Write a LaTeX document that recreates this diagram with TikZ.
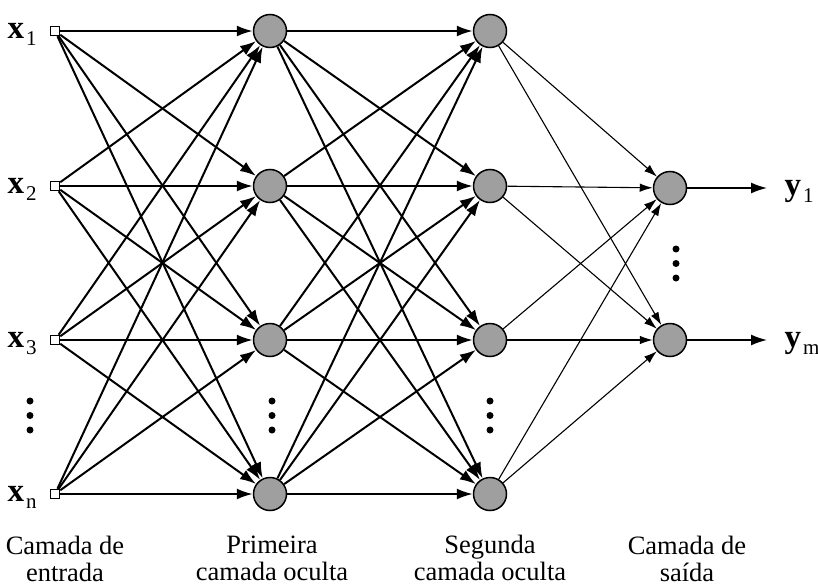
\documentclass[tikz,border=0pt]{standalone}
\usepackage{fontspec}
\setmainfont{Liberation Serif}
\usetikzlibrary{arrows.meta}
\begin{document}
\begin{tikzpicture}[x=1pt,y=-1pt,
  inbox/.style={draw,line width=1.5pt,fill=white,minimum size=9pt,inner sep=0pt},
  neuron/.style={circle,draw,line width=1.5pt,fill=gray!75,minimum size=33pt,inner sep=0pt},
  thickarrow/.style={line width=2pt,-{Latex[length=16pt,width=11pt]}},
  thinarrow/.style={line width=1.1pt,-{Latex[length=13pt,width=8.5pt]}},
  outarrow/.style={line width=1.6pt,-{Latex[length=16pt,width=11pt]}},
  lbl/.style={font=\fontsize{26.5}{27}\selectfont,align=center,inner sep=0pt},
  var/.style={font=\fontsize{33}{34}\selectfont,inner sep=0pt},
  sub/.style={},
  dotc/.style={fill=black,circle,inner sep=0pt,minimum size=7pt}]
\useasboundingbox (0,0) rectangle (818,586);
\newcommand{\mysub}[1]{\hspace{2pt}\raisebox{-7pt}{\fontsize{21}{21}\selectfont #1}}
% nodes
\foreach \i/\y in {1/31,2/186,3/340,4/494} {
  \node[inbox] (in\i) at (55,\y) {};
  \node[neuron] (h\i) at (270,\y) {};
  \node[neuron] (g\i) at (490,\y) {};
}
\node[neuron] (o1) at (670,188) {};
\node[neuron] (o2) at (670,340) {};
\coordinate (out1) at (767,188);
\coordinate (out2) at (767,340);
% connections
\foreach \i in {1,2,3,4} {
  \foreach \j in {1,2,3,4} {
    \draw[thickarrow] (in\i) -- (h\j);
    \draw[thickarrow] (h\i) -- (g\j);
  }
  \draw[thinarrow] (g\i) -- (o1);
  \draw[thinarrow] (g\i) -- (o2);
}
\draw[outarrow] (o1) -- (out1);
\draw[outarrow] (o2) -- (out2);
% variable labels
\node[var,anchor=base] (lx1) at (22,38) {\textbf{x}\mysub{1}};
\node[var,anchor=base] (lx2) at (22,193) {\textbf{x}\mysub{2}};
\node[var,anchor=base] (lx3) at (22,347) {\textbf{x}\mysub{3}};
\node[var,anchor=base] (lxn) at (22,501) {\textbf{x}\mysub{n}};
\node[var,anchor=base] (ly1) at (799,195) {\textbf{y}\mysub{1}};
\node[var,anchor=base] (lym) at (802,347) {\textbf{y}\mysub{m}};
% dots
\foreach \x/\y in {30/401,272/401,490/401} {
  \node[dotc] at (\x,\y) {};
  \node[dotc] at (\x,\y+14.5) {};
  \node[dotc] at (\x,\y+29) {};
}
\node[dotc] at (676,249) {};
\node[dotc] at (676,263.5) {};
\node[dotc] at (676,278) {};
% bottom labels
\node[lbl] (t1) at (65,559) {Camada de\\entrada};
\node[lbl] (t2) at (272,558) {Primeira\\camada oculta};
\node[lbl] (t3) at (490,558) {Segunda\\camada oculta};
\node[lbl] (t4) at (687,559) {Camada de\\saída};
\end{tikzpicture}
\end{document}
